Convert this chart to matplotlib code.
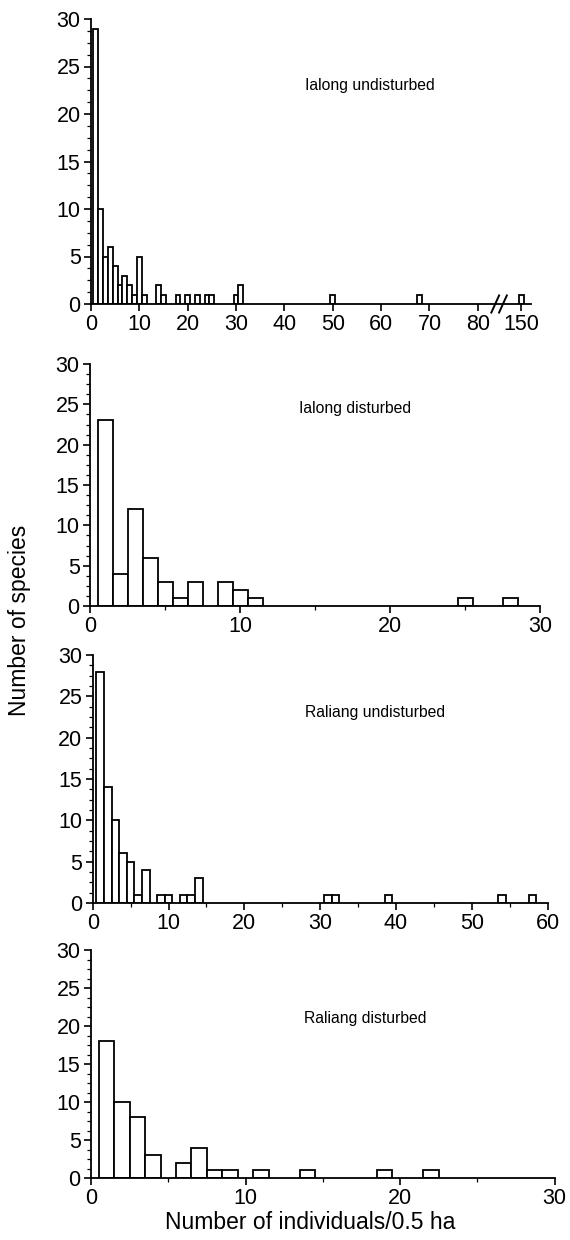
import matplotlib
matplotlib.use("Agg")
import matplotlib.pyplot as plt
from matplotlib.ticker import MultipleLocator, AutoMinorLocator

plt.rcParams['font.family'] = ['Liberation Sans', 'DejaVu Sans']

# ---- data ----
iu_x = [1, 2, 3, 4, 5, 6, 7, 8, 9, 10, 11, 14, 15, 18, 20, 22, 24, 25, 30, 31, 50, 68, 150]
iu_y = [29, 10, 5, 6, 4, 2, 3, 2, 1, 5, 1, 2, 1, 1, 1, 1, 1, 1, 1, 2, 1, 1, 1]

id_x = [1, 2, 3, 4, 5, 6, 7, 9, 10, 11, 25, 28]
id_y = [23, 4, 12, 6, 3, 1, 3, 3, 2, 1, 1, 1]

ru_x = [1, 2, 3, 4, 5, 6, 7, 9, 10, 12, 13, 14, 31, 32, 39, 54, 58]
ru_y = [28, 14, 10, 6, 5, 1, 4, 1, 1, 1, 1, 3, 1, 1, 1, 1, 1]

rd_x = [1, 2, 3, 4, 6, 7, 8, 9, 11, 14, 19, 22]
rd_y = [18, 10, 8, 3, 2, 4, 1, 1, 1, 1, 1, 1]

titles = ["Ialong undisturbed", "Ialong disturbed", "Raliang undisturbed", "Raliang disturbed"]
p1_ticks = [0, 10, 20, 30, 40, 50, 60, 70, 80, 150]

# axis-break mapping for the first panel
BREAK_AT = 80
BREAK_POS = 89
def brk(v):
    return v if v <= BREAK_AT else BREAK_POS + (v - 150)

fig = plt.figure(figsize=(5.7, 12.4), dpi=100)

rects = [
    [91/570, 1-304/1240, 440/570, 285/1240],
    [90/570, 1-606/1240, 450/570, 242/1240],
    [92.7/570, 1-903/1240, 455/570, 248/1240],
    [91/570, 1-1178/1240, 463.5/570, 228/1240],
]
xlims = [(0, 91), (0, 30), (0, 60), (0, 30)]
txtpos = [(0.634, 0.768), (0.589, 0.818), (0.62, 0.77), (0.591, 0.70)]
datasets = [([brk(v) for v in iu_x], iu_y), (id_x, id_y), (ru_x, ru_y), (rd_x, rd_y)]

for i, (r, (xs, ys)) in enumerate(zip(rects, datasets)):
    ax = fig.add_axes(r)
    ax.bar(xs, ys, width=1.0, facecolor='white', edgecolor='black', linewidth=1.3)
    ax.set_xlim(*xlims[i])
    ax.set_ylim(0, 30)
    for s in ['top', 'right']:
        ax.spines[s].set_visible(False)
    for s in ['left', 'bottom']:
        ax.spines[s].set_linewidth(1.3)
    ax.yaxis.set_major_locator(MultipleLocator(5))
    ax.yaxis.set_minor_locator(AutoMinorLocator(4))
    ax.tick_params(axis='both', which='major', labelsize=15.5, length=5, width=1.2,
                   direction='out', pad=2.5)
    ax.tick_params(axis='both', which='minor', length=3, width=0.9, direction='out')
    if i == 0:
        ax.set_xticks([brk(v) for v in p1_ticks])
        ax.set_xticklabels([str(v) for v in p1_ticks])
        for xb in (83.6, 85.2):
            ax.plot([xb - 0.8, xb + 0.8], [-0.9, 0.9], color='black', lw=1.4, clip_on=False)
    else:
        ax.xaxis.set_major_locator(MultipleLocator(10))
        ax.xaxis.set_minor_locator(MultipleLocator(5))
    ax.text(txtpos[i][0], txtpos[i][1], titles[i], transform=ax.transAxes,
            ha='center', va='center', fontsize=11.3)

fig.text(0.035, 0.5, "Number of species", rotation=90, ha='center', va='center', fontsize=16.5)
fig.text(0.544, 0.0145, "Number of individuals/0.5 ha", ha='center', va='center', fontsize=16.5)

fig.savefig("out.png", dpi=100)
